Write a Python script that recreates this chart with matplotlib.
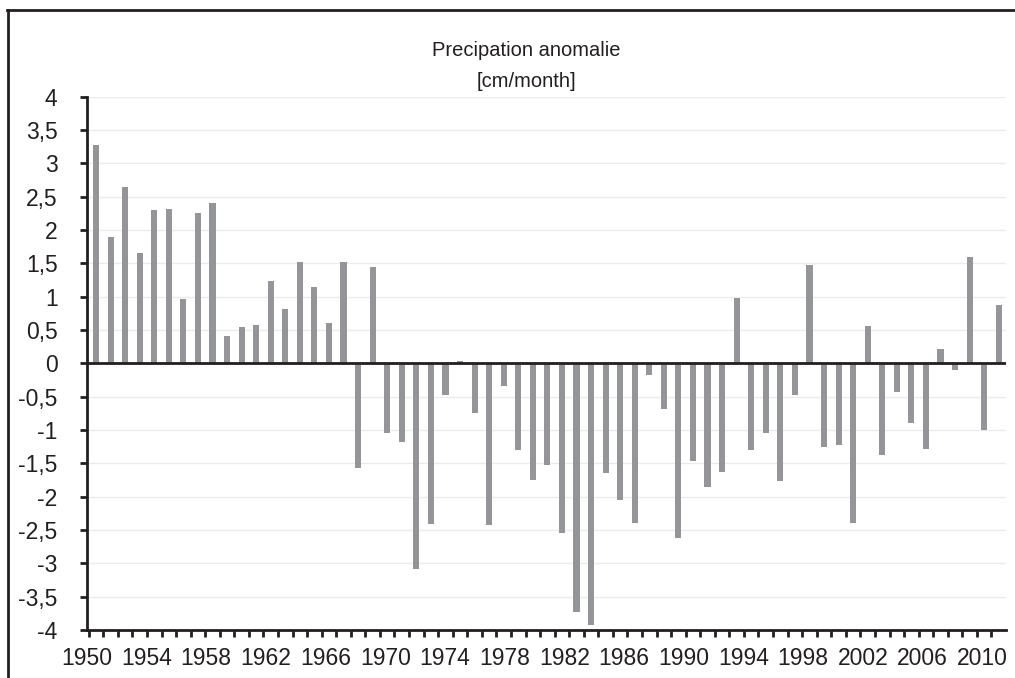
import numpy as np
import matplotlib
matplotlib.use("Agg")
import matplotlib.pyplot as plt
from matplotlib.lines import Line2D

# precipitation anomaly per year [cm/month]
years = list(range(1950, 2013))
anomaly = [3.28, 1.89, 2.65, 1.66, 2.30, 2.31, 0.97, 2.25, 2.41, 0.41,
           0.55, 0.57, 1.23, 0.81, 1.52, 1.15, 0.60, 1.52, -1.57, 1.45,
           -1.04, -1.18, -3.09, -2.41, -0.47, 0.03, -0.75, -2.43, -0.34, -1.30,
           -1.75, -1.53, -2.55, -3.73, -3.92, -1.64, -2.05, -2.40, -0.17, -0.69,
           -2.62, -1.47, -1.86, -1.63, 0.98, -1.30, -1.04, -1.76, -0.47, 1.47,
           -1.25, -1.22, -2.39, 0.56, -1.37, -0.43, -0.90, -1.29, 0.22, -0.10,
           1.60, -1.00, 0.88]
label_years = list(range(1950, 2011, 4))
y_ticks = [-4, -3.5, -3, -2.5, -2, -1.5, -1, -0.5, 0, 0.5, 1, 1.5, 2, 2.5, 3, 3.5, 4]

dark = "#231f20"
bar_col = "#939598"

plt.rcParams["font.family"] = ["Liberation Sans", "DejaVu Sans"]

fig = plt.figure(figsize=(10.15, 6.78), dpi=100)
ax = fig.add_axes([86.7 / 1015, 1 - 630 / 678, (1006 - 86.7) / 1015, (630 - 96.7) / 678])

ax.bar(years, anomaly, width=0.42, color=bar_col, zorder=2)
ax.axhline(0, color=dark, lw=2, zorder=3)

ax.set_xlim(1949.5, 2012.5)
ax.set_ylim(-4, 4)

# y axis with comma decimals
ax.set_yticks(y_ticks)
ax.set_yticklabels([("%g" % v).replace(".", ",") for v in y_ticks])
ax.yaxis.grid(True, color="#ebebeb", lw=1, zorder=0)
ax.set_axisbelow(True)

# tick marks between the bars, labels spread like in the original
ax.set_xticks(np.arange(1949.5, 2012, 1.0))
ax.set_xticklabels([])
ax.set_xticks(np.linspace(1949.36, 2010.87, len(label_years)), minor=True)
ax.set_xticklabels([str(y) for y in label_years], minor=True)
ax.tick_params(axis="x", which="minor", length=0, pad=12, labelsize=16.5, labelcolor=dark)
ax.tick_params(axis="x", which="major", length=5, width=2, color=dark, direction="out")
ax.tick_params(axis="y", length=5, width=2, color=dark, pad=16, labelsize=16.5, labelcolor=dark)

for s in ["top", "right"]:
    ax.spines[s].set_visible(False)
for s in ["left", "bottom"]:
    ax.spines[s].set_color(dark)
    ax.spines[s].set_linewidth(2)

fig.text(526 / 1015, 1 - 56 / 678, "Precipation anomalie", ha="center", va="baseline",
         fontsize=14.5, color=dark)
fig.text(526 / 1015, 1 - 87 / 678, "[cm/month]", ha="center", va="baseline",
         fontsize=14.5, color=dark)

# open frame around the figure (left and top edges)
fig.add_artist(Line2D([8 / 1015, 8 / 1015], [0, 1 - 9.5 / 678], color=dark, lw=2,
                      transform=fig.transFigure))
fig.add_artist(Line2D([7 / 1015, 1], [1 - 9.5 / 678, 1 - 9.5 / 678], color=dark, lw=2,
                      transform=fig.transFigure))

fig.savefig("out.png", dpi=100)
